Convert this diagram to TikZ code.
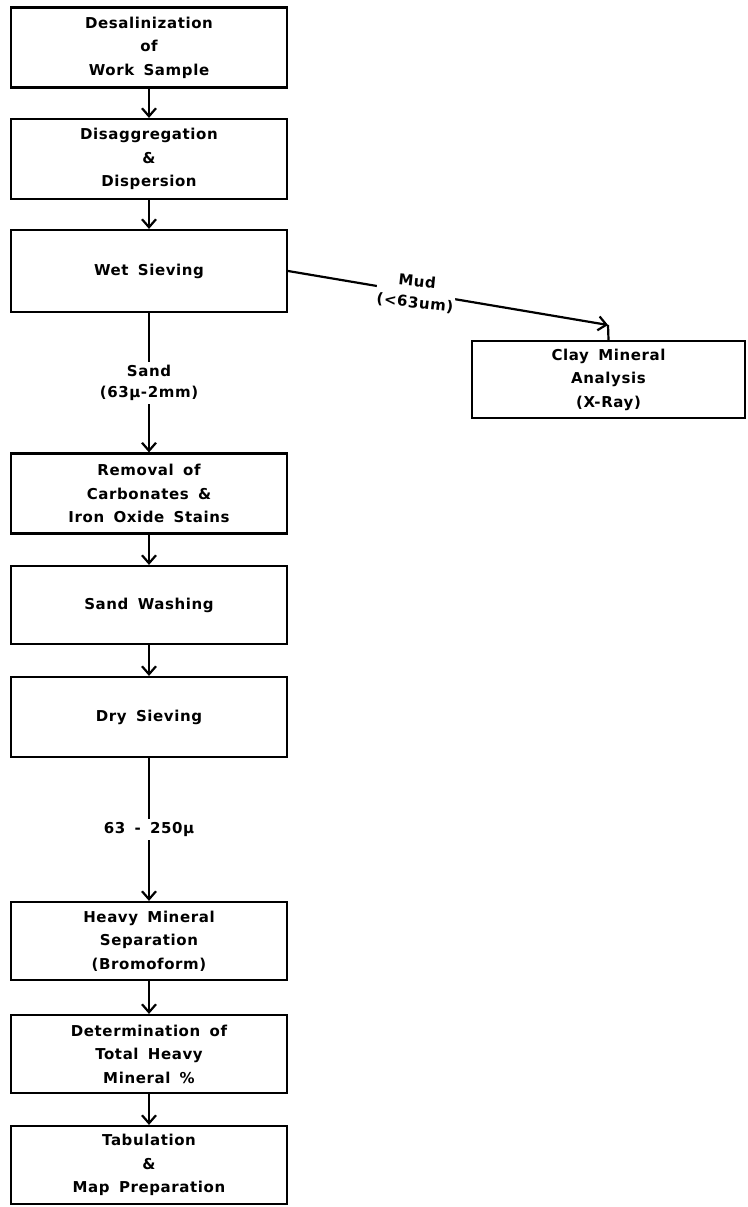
\documentclass[tikz,border=0pt]{standalone}
\usepackage{fontspec}
\setmainfont{DejaVu Sans}[LetterSpace=4,WordSpace=1.6]
\usepackage{tikz}
\usetikzlibrary{arrows.meta}

\begin{document}
\begin{tikzpicture}[>={Straight Barb[length=8pt,width=14pt,line width=2.2pt]},x=1pt,y=-1pt,
    stage/.style={draw,line width=2.2pt,minimum width=276pt,minimum height=80pt,inner sep=0pt,align=center,font=\fontsize{15}{23.5}\selectfont\bfseries},
    flow/.style={->,line width=2.2pt},
    lbl/.style={fill=white,align=center,inner sep=3pt,font=\fontsize{15}{21}\selectfont\bfseries}]
      \useasboundingbox (0,0) rectangle (747,1207);
      \node[stage] (desal) at (149,47.5) {Desalinization\\of\\Work Sample};
      \node[stage] (disagg) at (149,159) {Disaggregation\\\&\\Dispersion};
      \node[stage,minimum height=82pt] (wetsieve) at (149,271) {Wet Sieving};
      \node[stage] (removal) at (149,493.5) {Removal of\\Carbonates \&\\Iron Oxide Stains};
      \node[stage,minimum height=78pt] (washing) at (149,605) {Sand Washing};
      \node[stage] (drysieve) at (149,717) {Dry Sieving};
      \node[stage,minimum height=78pt] (heavy) at (149,941) {Heavy Mineral\\Separation\\(Bromoform)};
      \node[stage,minimum height=78pt] (determ) at (149,1054) {Determination of\\Total Heavy\\Mineral \%};
      \node[stage,minimum height=78pt] (tabul) at (149,1165) {Tabulation\\\&\\Map Preparation};
      \node[stage,minimum width=273pt,minimum height=77pt] (clay) at (608.5,379.5) {Clay Mineral\\Analysis\\(X-Ray)};
      \coordinate (mudend) at (608,325);
      \draw[flow] (desal) -- (disagg);
      \draw[flow] (disagg) -- (wetsieve);
      \draw[flow] (wetsieve) -- node[lbl]{Sand\\(63µ-2mm)} (removal);
      \draw[flow] (removal) -- (washing);
      \draw[flow] (washing) -- (drysieve);
      \draw[flow] (drysieve) -- node[lbl]{63 - 250µ} (heavy);
      \draw[flow] (heavy) -- (determ);
      \draw[flow] (determ) -- (tabul);
      \draw[flow] (wetsieve.east) -- node[lbl,pos=0.4,rotate=-6,inner sep=1pt]{Mud\\(<63um)} (mudend);
      \draw[line width=2.2pt] (mudend) -- (clay.north);
    \end{tikzpicture}
\end{document}
